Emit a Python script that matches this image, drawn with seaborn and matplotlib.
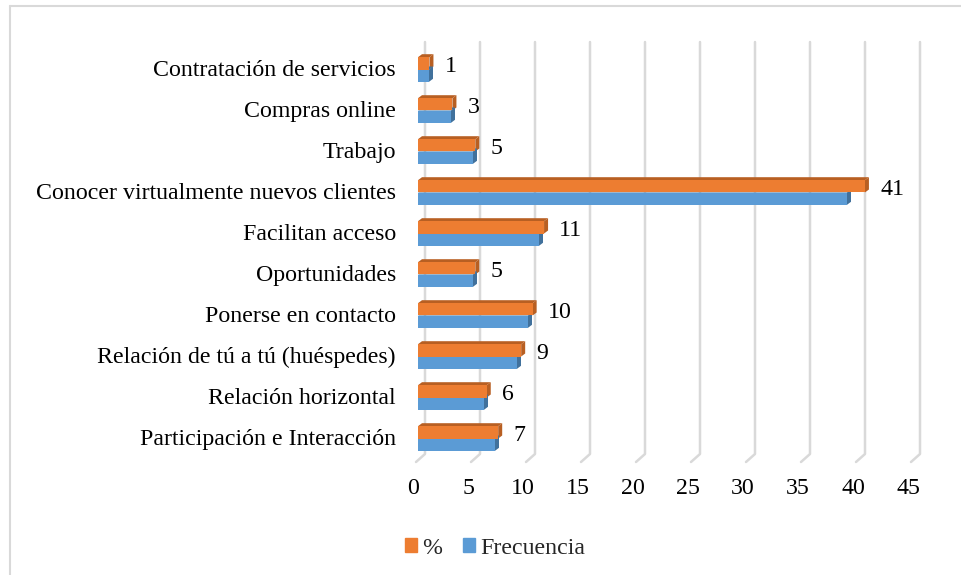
import matplotlib
matplotlib.use("Agg")
import matplotlib.pyplot as plt
import matplotlib.transforms as mtransforms
from matplotlib.patches import Polygon
from matplotlib.lines import Line2D
import seaborn as sns
import pandas as pd

categories = [
    "Contratación de servicios",
    "Compras online",
    "Trabajo",
    "Conocer virtualmente nuevos clientes",
    "Facilitan acceso",
    "Oportunidades",
    "Ponerse en contacto",
    "Relación de tú a tú (huéspedes)",
    "Relación horizontal",
    "Participación e Interacción",
]
porcentaje = [1.04, 3.13, 5.21, 40.63, 11.46, 5.21, 10.42, 9.38, 6.25, 7.29]
frecuencia = [1, 3, 5, 39, 11, 5, 10, 9, 6, 7]
series = ["%", "Frecuencia"]
colors = {"%": "#ED7D31", "Frecuencia": "#5B9BD5"}
side_colors = {"%": "#B85F22", "Frecuencia": "#41719C"}
x_ticks = [0, 5, 10, 15, 20, 25, 30, 35, 40, 45]

df = pd.DataFrame({
    "cat": categories * 2,
    "val": porcentaje + frecuencia,
    "serie": ["%"] * len(categories) + ["Frecuencia"] * len(categories),
})

sns.set_theme(style="white")
plt.rcParams["font.family"] = ["Liberation Serif", "DejaVu Serif"]
FS = 17.2

W, H = 961, 575
fig = plt.figure(figsize=(W / 100, H / 100), dpi=100)
ax = fig.add_axes([418 / W, 1 - 459 / H, 495 / W, 410 / H])
ax.patch.set_visible(False)

sns.barplot(data=df, y="cat", x="val", hue="serie", hue_order=series,
            order=categories, palette=colors, orient="h", width=0.6,
            saturation=1, ax=ax, zorder=2, linewidth=0)

ax.set_xlim(0, 45)
ax.set_ylim(len(categories) - 0.5, -0.5)
ax.set_xticks(x_ticks)
ax.set_xticklabels([str(t) for t in x_ticks])
ax.set_xlabel("")
ax.set_ylabel("")
for s in ax.spines.values():
    s.set_visible(False)
ax.tick_params(axis="x", length=0, pad=14, labelsize=FS, labelcolor="black")
ax.tick_params(axis="y", length=0, pad=16, labelsize=FS, labelcolor="black")
ax.grid(False)

shift = mtransforms.ScaledTranslation(-5 / 100, 0, fig.dpi_scale_trans)
for lab in ax.get_xticklabels():
    lab.set_transform(lab.get_transform() + shift)
yshift = mtransforms.ScaledTranslation(0, 1.5 / 100, fig.dpi_scale_trans)
for lab in ax.get_yticklabels():
    lab.set_transform(lab.get_transform() + yshift)

ident = mtransforms.IdentityTransform()

# gridlines on back wall with floor slant
fig.canvas.draw()
tr = ax.transData
for t in x_ticks:
    xb, _ = tr.transform((t, -0.5))
    xb += 7
    ytop_px = H - 42
    ybot_px = H - 454
    xs = [xb, xb, xb - 9]
    ys = [ytop_px, ybot_px, ybot_px - 8]
    ax.add_artist(Line2D(xs, ys, transform=ident, color="#d9d9d9", lw=1.8,
                         zorder=0.5, clip_on=False))

# 3D faces
dx, dy = 4, 3
for serie, cont in zip(series, ax.containers):
    for p in cont.patches:
        x0, y0 = p.get_x(), p.get_y()
        w, h = p.get_width(), p.get_height()
        (px0, pya), (px1, pyb) = tr.transform([(x0, y0), (x0 + w, y0 + h)])
        ytopp, ybotp = max(pya, pyb), min(pya, pyb)
        top = Polygon([(px0, ytopp), (px1, ytopp), (px1 + dx, ytopp + dy),
                       (px0 + dx, ytopp + dy)], closed=True, transform=ident,
                      facecolor=side_colors[serie], edgecolor="none",
                      zorder=1.5, clip_on=False)
        side = Polygon([(px1, ytopp), (px1, ybotp), (px1 + dx, ybotp + dy),
                        (px1 + dx, ytopp + dy)], closed=True, transform=ident,
                       facecolor=side_colors[serie], edgecolor="none",
                       zorder=1.5, clip_on=False)
        ax.add_artist(top)
        ax.add_artist(side)

# data labels on % bars
anns = ax.bar_label(ax.containers[0], labels=[f"{v:.0f}" for v in porcentaje],
                    padding=11, fontsize=FS, color="black")
for a in anns:
    a.xyann = (11, -2.5)

# legend
handles = [plt.Rectangle((0, 0), 1, 1, color=colors[s]) for s in series]
if ax.get_legend() is not None:
    ax.get_legend().remove()
fig.legend(handles, series, loc="center", bbox_to_anchor=(495 / W, 1 - 548 / H),
           ncol=2, frameon=False, fontsize=FS, handlelength=0.5,
           handleheight=0.5, handletextpad=0.2, columnspacing=0.9)

# chart border (top and left)
fig.add_artist(Line2D([10, W], [H - 6, H - 6], transform=None, color="#d9d9d9", lw=1.5))
fig.add_artist(Line2D([10, 10], [0, H - 6], transform=None, color="#d9d9d9", lw=1.5))

fig.savefig("out.png", dpi=100)
